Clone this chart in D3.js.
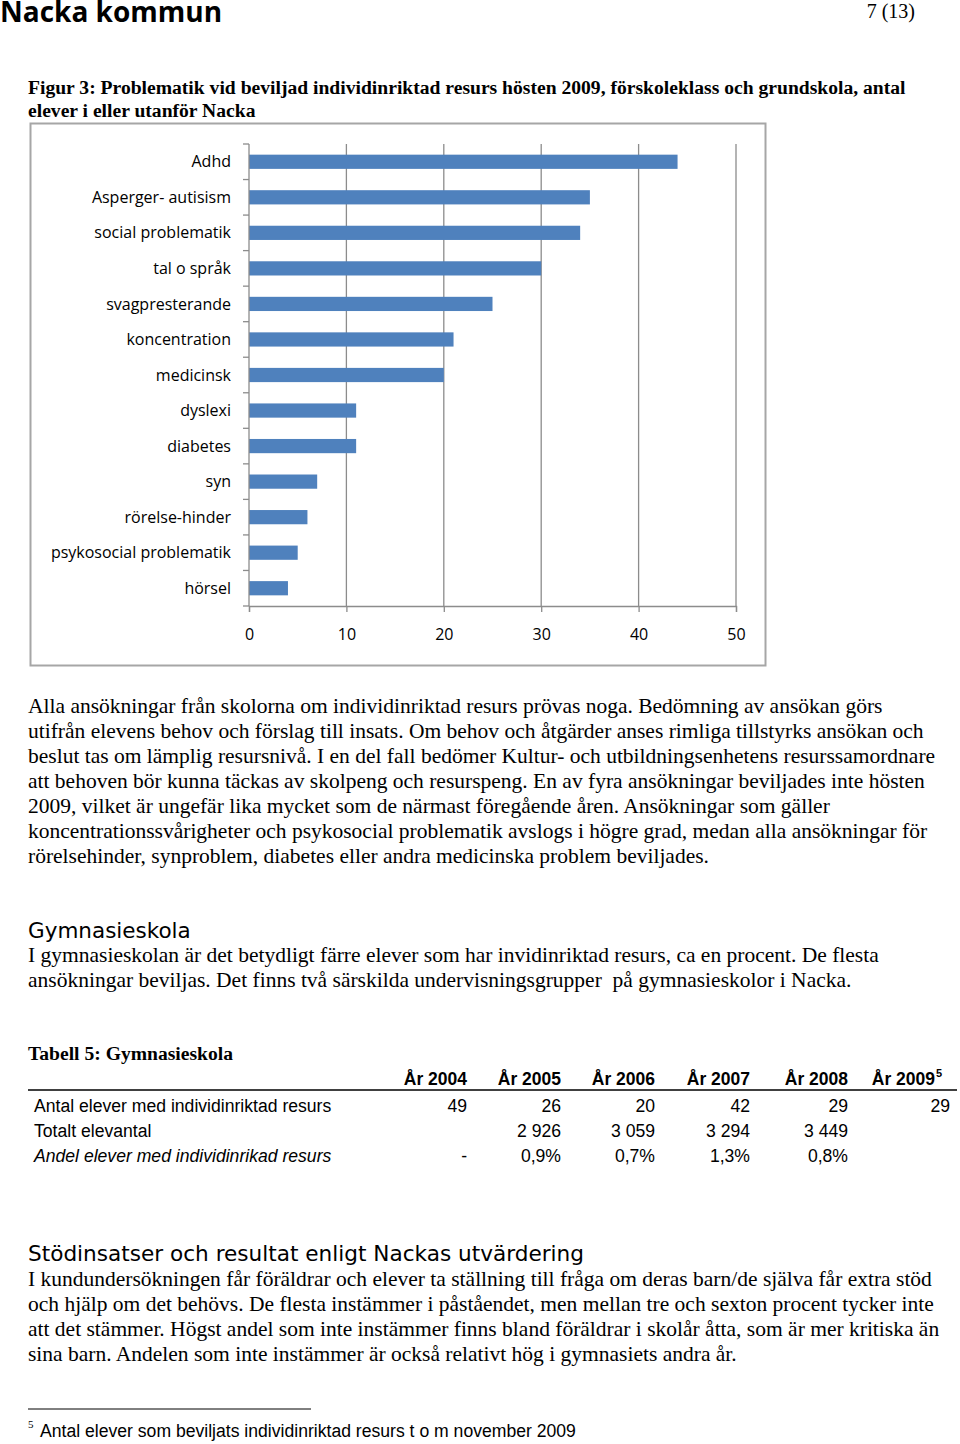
<!DOCTYPE html>
<html><head><meta charset="utf-8">
<script src="https://cdn.jsdelivr.net/npm/d3@7"></script>
<style>
html,body{margin:0;padding:0;background:#fff;}
svg{display:block;}
.serif{font-family:"Liberation Serif","Times New Roman",serif;}
.cal{font-family:"Open Sans","Noto Sans",sans-serif;}
</style></head>
<body>
<svg id="page" width="960" height="1444"></svg>
<script>
const categories = ["Adhd","Asperger- autisism","social problematik","tal o språk","svagpresterande","koncentration","medicinsk","dyslexi","diabetes","syn","rörelse-hinder","psykosocial problematik","hörsel"];
const values = [44,35,34,30,25,21,20,11,11,7,6,5,4];
const xTicks = [0,10,20,30,40,50];

const tableYears = ["År 2004","År 2005","År 2006","År 2007","År 2008","År 2009"];
const tableRowLabels = ["Antal elever med individinriktad resurs","Totalt elevantal","Andel elever med individinrikad resurs"];
const rowAntal = ["49","26","20","42","29","29"];
const rowTotal = ["","2 926","3 059","3 294","3 449",""];
const rowAndel = ["-","0,9%","0,7%","1,3%","0,8%",""];

const para1 = [
"Alla ansökningar från skolorna om individinriktad resurs prövas noga. Bedömning av ansökan görs",
"utifrån elevens behov och förslag till insats. Om behov och åtgärder anses rimliga tillstyrks ansökan och",
"beslut tas om lämplig resursnivå. I en del fall bedömer Kultur- och utbildningsenhetens resurssamordnare",
"att behoven bör kunna täckas av skolpeng och resurspeng. En av fyra ansökningar beviljades inte hösten",
"2009, vilket är ungefär lika mycket som de närmast föregående åren. Ansökningar som gäller",
"koncentrationssvårigheter och psykosocial problematik avslogs i högre grad, medan alla ansökningar för",
"rörelsehinder, synproblem, diabetes eller andra medicinska problem beviljades."];
const para2 = [
"I gymnasieskolan är det betydligt färre elever som har invidinriktad resurs, ca en procent. De flesta",
"ansökningar beviljas. Det finns två särskilda undervisningsgrupper  på gymnasieskolor i Nacka."];
const para3 = [
"I kundundersökningen får föräldrar och elever ta ställning till fråga om deras barn/de själva får extra stöd",
"och hjälp om det behövs. De flesta instämmer i påståendet, men mellan tre och sexton procent tycker inte",
"att det stämmer. Högst andel som inte instämmer finns bland föräldrar i skolår åtta, som är mer kritiska än",
"sina barn. Andelen som inte instämmer är också relativt hög i gymnasiets andra år."];

const svg = d3.select("#page");
const NARROW = "'Liberation Sans Narrow','Liberation Sans',sans-serif";

// header
svg.append("text").attr("x",0).attr("y",22).attr("font-family","'Open Sans',sans-serif").attr("font-weight",700)
  .attr("font-size",28).attr("fill","#000").text("Nacka kommun");
svg.append("text").attr("class","serif").attr("x",915).attr("y",18).attr("text-anchor","end").attr("font-size",20).text("7 (13)");

// caption
svg.append("text").attr("class","serif").attr("x",28).attr("y",94).attr("font-size",19.6).attr("font-weight",700)
  .text("Figur 3: Problematik vid beviljad individinriktad resurs hösten 2009, förskoleklass och grundskola, antal");
svg.append("text").attr("class","serif").attr("x",28).attr("y",117).attr("font-size",19.6).attr("font-weight",700)
  .text("elever i eller utanför Nacka");

// chart frame
svg.append("rect").attr("x",30.5).attr("y",123.5).attr("width",735).attr("height",542)
  .attr("fill","#fff").attr("stroke","#a6a6a6").attr("stroke-width",2);

const x = d3.scaleLinear().domain([0,50]).range([249,736]);
const y = d3.scaleBand().domain(categories).range([144,606]).paddingInner(0.6).paddingOuter(0.3);
const g = svg.append("g");

// gridlines
g.selectAll("line.grid").data(xTicks.slice(1)).join("line")
  .attr("x1",d=>x(d)).attr("x2",d=>x(d)).attr("y1",144).attr("y2",606)
  .attr("stroke","#8c8c8c").attr("stroke-width",1.3);

// bars
g.selectAll("rect.bar").data(categories).join("rect")
  .attr("x",x(0)).attr("y",d=>y(d)).attr("height",y.bandwidth())
  .attr("width",(d,i)=>x(values[i])-x(0)).attr("fill","#4f81bd");

// y axis
g.append("line").attr("x1",x(0)).attr("x2",x(0)).attr("y1",144).attr("y2",606).attr("stroke","#8c8c8c").attr("stroke-width",1.3);
const step = y.step();
g.selectAll("line.ytick").data(d3.range(categories.length+1)).join("line")
  .attr("x1",x(0)-6).attr("x2",x(0)).attr("y1",i=>144+i*step).attr("y2",i=>144+i*step)
  .attr("stroke","#8c8c8c").attr("stroke-width",1.3);
g.selectAll("text.ylab").data(categories).join("text")
  .attr("class","cal").attr("x",231).attr("y",d=>y(d)+y.bandwidth()/2).attr("dy","0.35em")
  .attr("text-anchor","end").attr("font-size",16).attr("fill","#000").text(d=>d);

// x axis
const xAxis = d3.axisBottom(x).tickValues(xTicks).tickSize(6).tickPadding(17);
const xa = g.append("g").attr("transform","translate(0,606)").call(xAxis);
xa.select(".domain").attr("stroke","#8c8c8c").attr("stroke-width",1.3);
xa.selectAll(".tick line").attr("stroke","#8c8c8c").attr("stroke-width",1.3);
xa.selectAll(".tick text").attr("font-size",16).attr("fill","#000")
  .attr("font-family","'Open Sans',sans-serif");

// paragraphs
function para(lines, y0, lh){
  svg.append("g").selectAll("text").data(lines).join("text")
    .attr("class","serif").attr("x",28).attr("y",(d,i)=>y0+i*lh).attr("font-size",21.5).attr("fill","#000")
    .style("white-space","pre").text(d=>d);
}
para(para1, 713, 25);

svg.append("text").attr("x",28).attr("y",938).attr("font-family","'DejaVu Sans',sans-serif").attr("font-size",21.5).text("Gymnasieskola");
para(para2, 962, 25);

// table
svg.append("text").attr("class","serif").attr("x",28).attr("y",1060).attr("font-size",19.6).attr("font-weight",700).text("Tabell 5: Gymnasieskola");
const colRight = [467,561,655,750,848,942];
const tg = svg.append("g");
tg.selectAll("text.hdr").data(tableYears).join("text")
  .attr("x",(d,i)=>colRight[i]-(i===5?7:0)).attr("y",1085).attr("text-anchor","end")
  .attr("font-size",17.5).attr("font-weight",700).attr("font-family",NARROW).text(d=>d);
tg.append("text").attr("x",936).attr("y",1077).attr("font-size",11).attr("font-weight",700)
  .attr("font-family",NARROW).text("5");
tg.append("line").attr("x1",28).attr("x2",957).attr("y1",1090).attr("y2",1090).attr("stroke","#000").attr("stroke-width",1.5);
const rows = [rowAntal,rowTotal,rowAndel];
rows.forEach((r,ri)=>{
  const yy = 1112 + ri*25;
  tg.append("text").attr("x",34).attr("y",yy).attr("font-size",17.6)
    .attr("font-family",NARROW)
    .attr("font-style",ri===2?"italic":"normal").text(tableRowLabels[ri]);
  tg.selectAll(null).data(r).join("text")
    .attr("x",(d,i)=>colRight[i]+ (i===5?8:0)).attr("y",yy).attr("text-anchor","end").attr("font-size",17.6)
    .attr("font-family",NARROW).text(d=>d);
});

svg.append("text").attr("x",28).attr("y",1261).attr("font-family","'DejaVu Sans',sans-serif").attr("font-size",21.6)
  .text("Stödinsatser och resultat enligt Nackas utvärdering");
para(para3, 1286, 25);

// footnote
svg.append("line").attr("x1",28).attr("x2",311).attr("y1",1409).attr("y2",1409).attr("stroke","#000").attr("stroke-width",1);
svg.append("text").attr("x",28).attr("y",1428).attr("font-size",11).attr("font-family","'Liberation Serif',serif").text("5");
svg.append("text").attr("x",40).attr("y",1437).attr("font-size",17.6).attr("font-family","'Liberation Sans',Arial,sans-serif")
  .text("Antal elever som beviljats individinriktad resurs t o m november 2009");
</script>
</body></html>
